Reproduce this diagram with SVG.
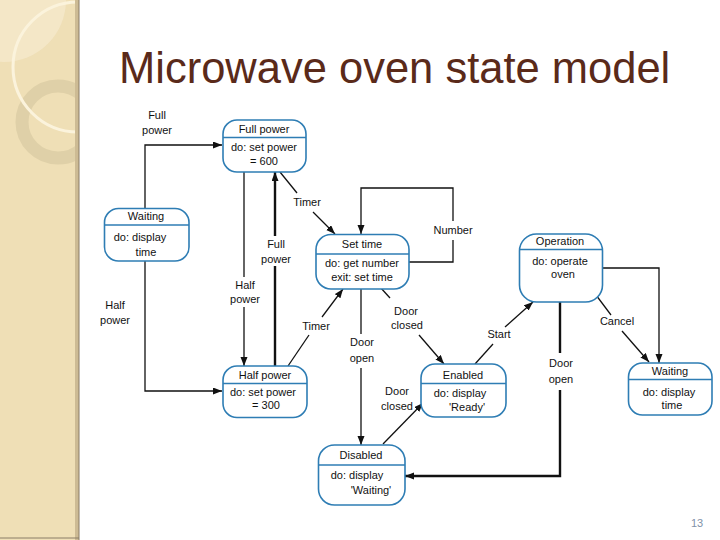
<svg xmlns="http://www.w3.org/2000/svg" width="720" height="540" viewBox="0 0 720 540">
<defs>
<style>
.box{fill:#ffffff;stroke:#2e7db4;stroke-width:1.6}
.div{stroke:#2e7db4;stroke-width:1.6}
.t{font-family:"Liberation Sans",Arial,sans-serif;font-size:11px;fill:#111111;text-anchor:middle}
.c{fill:none;stroke:#111111;stroke-width:1.3}
.ck{fill:none;stroke:#111111;stroke-width:2.4}
</style>
<marker id="ah" markerUnits="userSpaceOnUse" markerWidth="10" markerHeight="8" refX="9" refY="3.5" orient="auto">
<path d="M0,0 L9,3.5 L0,7 Z" fill="#111111"/>
</marker>
<clipPath id="panel"><rect x="0" y="0" width="78" height="540"/></clipPath>
</defs>
<rect x="0" y="0" width="720" height="540" fill="#ffffff"/>
<g id="sidebar">
<rect x="0" y="0" width="79" height="540" fill="#efdfb6"/>
<g clip-path="url(#panel)">
<circle cx="4" cy="0" r="62" fill="#f5e9cc" opacity="0.8"/>
<circle cx="58" cy="122" r="36" fill="none" stroke="#dfd0a8" stroke-width="13"/>
<circle cx="78" cy="67" r="65" fill="none" stroke="#fbf3dc" stroke-width="3"/>
</g>
<rect x="75" y="0" width="4" height="540" fill="#cdbb94"/>
<line x1="79" y1="0" x2="79" y2="540" stroke="#8a7d66" stroke-width="1"/>
<line x1="0" y1="538" x2="79" y2="538" stroke="#8a7d66" stroke-width="1"/>
</g>
<text id="title" x="119" y="83" font-family="'Liberation Sans',Arial,sans-serif" font-size="43.5" fill="#5a2a1a">Microwave oven state model</text>
<text id="page" x="697" y="527" font-family="'Liberation Sans',Arial,sans-serif" font-size="11" fill="#8092a8" text-anchor="middle">13</text>

<g id="connectors">
<polyline class="c" points="145,208 145,145 222,145" marker-end="url(#ah)"/>
<text class="t" x="157" y="119">Full</text>
<text class="t" x="157" y="134">power</text>
<polyline class="c" points="145,261 145,391 222,391" marker-end="url(#ah)"/>
<text class="t" x="115" y="309">Half</text>
<text class="t" x="115" y="324">power</text>
<line class="c" x1="244" y1="172" x2="244" y2="277"/>
<line class="c" x1="244" y1="307" x2="244" y2="366" marker-end="url(#ah)"/>
<text class="t" x="245" y="289">Half</text>
<text class="t" x="245" y="303">power</text>
<line class="ck" x1="275" y1="366" x2="275" y2="266"/>
<line class="ck" x1="275" y1="236" x2="275" y2="172" marker-end="url(#ah)"/>
<text class="t" x="276" y="248">Full</text>
<text class="t" x="276" y="263">power</text>
<line class="c" x1="280" y1="172" x2="297" y2="193"/>
<line class="c" x1="313" y1="212" x2="335" y2="234" marker-end="url(#ah)"/>
<text class="t" x="307" y="206">Timer</text>
<line class="c" x1="288" y1="366" x2="309" y2="335"/>
<line class="c" x1="322" y1="317" x2="343" y2="289" marker-end="url(#ah)"/>
<text class="t" x="316" y="330">Timer</text>
<polyline class="c" points="409,262 453,262 453,240"/>
<polyline class="c" points="453,221 453,188 361,188 361,234" marker-end="url(#ah)"/>
<text class="t" x="453" y="234">Number</text>
<line class="c" x1="361" y1="289" x2="361" y2="334"/>
<line class="c" x1="361" y1="368" x2="361" y2="445" marker-end="url(#ah)"/>
<text class="t" x="362" y="346">Door</text>
<text class="t" x="362" y="362">open</text>
<line class="c" x1="380" y1="287" x2="390" y2="298"/>
<line class="c" x1="419" y1="335" x2="444" y2="364" marker-end="url(#ah)"/>
<text class="t" x="406" y="315">Door</text>
<text class="t" x="407" y="329">closed</text>
<line class="c" x1="475" y1="364" x2="493" y2="344"/>
<line class="c" x1="505" y1="327" x2="533" y2="302" marker-end="url(#ah)"/>
<text class="t" x="499" y="338">Start</text>
<line class="c" x1="383" y1="444" x2="423" y2="403" marker-end="url(#ah)"/>
<text class="t" x="397" y="395">Door</text>
<text class="t" x="397" y="410">closed</text>
<line class="ck" x1="560" y1="302" x2="560" y2="353"/>
<polyline class="ck" points="560,390 560,476 405,476" marker-end="url(#ah)"/>
<text class="t" x="561" y="367">Door</text>
<text class="t" x="561" y="383">open</text>
<line class="c" x1="596" y1="295" x2="611" y2="315"/>
<line class="c" x1="622" y1="331" x2="649" y2="362" marker-end="url(#ah)"/>
<text class="t" x="617" y="325">Cancel</text>
<polyline class="c" points="603,268 659,268 659,363" marker-end="url(#ah)"/>
</g>

<g id="full_power">
<rect class="box" x="223" y="120" width="83" height="52" rx="14"/>
<line class="div" x1="223" y1="137.5" x2="306" y2="137.5"/>
<text class="t" x="264" y="133">Full power</text>
<text class="t" x="264" y="150.5">do: set power</text>
<text class="t" x="264" y="165">= 600</text>
</g>
<g id="waiting_left">
<rect class="box" x="104.5" y="208.5" width="84.5" height="52.5" rx="14"/>
<line class="div" x1="104.5" y1="225" x2="189" y2="225"/>
<text class="t" x="146" y="220">Waiting</text>
<text class="t" x="140" y="240.5">do: display</text>
<text class="t" x="146" y="255.5">time</text>
</g>
<g id="set_time">
<rect class="box" x="316" y="234.5" width="93" height="54.5" rx="15"/>
<line class="div" x1="316" y1="254" x2="409" y2="254"/>
<text class="t" x="362" y="248">Set time</text>
<text class="t" x="362" y="267">do: get number</text>
<text class="t" x="362" y="280.5">exit: set time</text>
</g>
<g id="operation">
<rect class="box" x="519.5" y="234" width="83" height="68" rx="17"/>
<line class="div" x1="519.5" y1="249.5" x2="602.5" y2="249.5"/>
<text class="t" x="560" y="245">Operation</text>
<text class="t" x="560" y="264.5">do: operate</text>
<text class="t" x="563" y="278">oven</text>
</g>
<g id="half_power">
<rect class="box" x="223" y="366" width="84" height="51.5" rx="14"/>
<line class="div" x1="223" y1="383.5" x2="307" y2="383.5"/>
<text class="t" x="265" y="379">Half power</text>
<text class="t" x="263" y="395.5">do:  set power</text>
<text class="t" x="266" y="409">= 300</text>
</g>
<g id="enabled">
<rect class="box" x="421" y="364" width="85" height="53" rx="14"/>
<line class="div" x1="421" y1="383.5" x2="506" y2="383.5"/>
<text class="t" x="463" y="379">Enabled</text>
<text class="t" x="460" y="396.5">do: display</text>
<text class="t" x="467" y="410.5">'Ready'</text>
</g>
<g id="waiting_right">
<rect class="box" x="628.5" y="363" width="83.5" height="52" rx="14"/>
<line class="div" x1="628.5" y1="379.5" x2="712" y2="379.5"/>
<text class="t" x="670" y="375">Waiting</text>
<text class="t" x="669" y="395.5">do: display</text>
<text class="t" x="672" y="409">time</text>
</g>
<g id="disabled">
<rect class="box" x="318.5" y="445" width="86.5" height="60" rx="16"/>
<line class="div" x1="318.5" y1="465" x2="405" y2="465"/>
<text class="t" x="361" y="459">Disabled</text>
<text class="t" x="357" y="479">do:  display</text>
<text class="t" x="371" y="494">'Waiting'</text>
</g>
</svg>
